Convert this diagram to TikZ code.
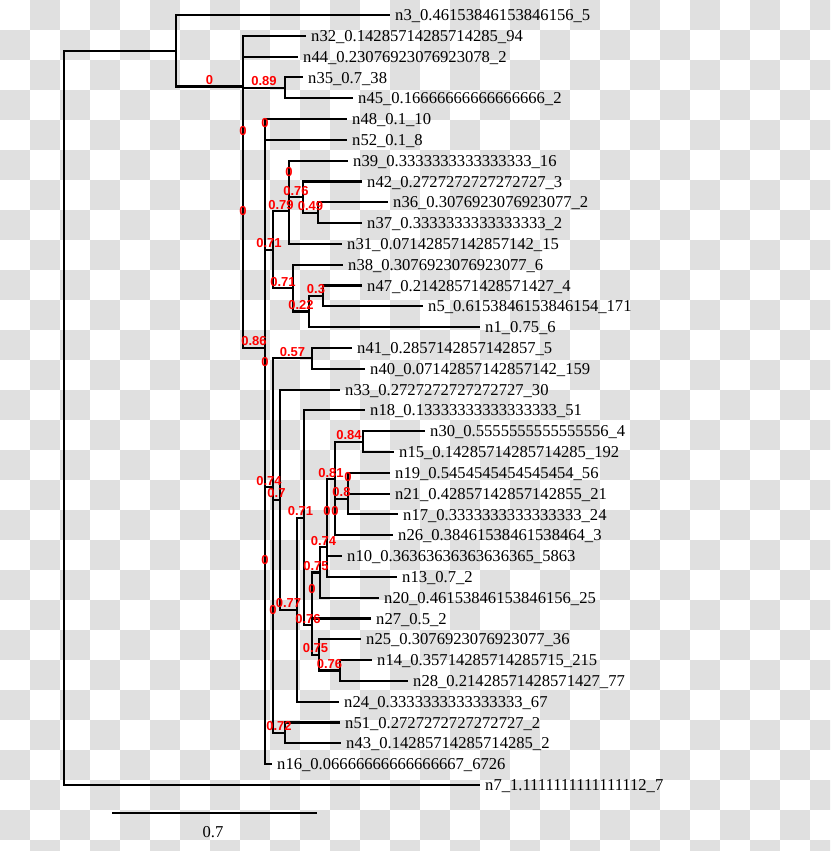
\documentclass[tikz,border=0pt]{standalone}
\usepackage{fontspec}
\setmainfont{Liberation Serif}
\newfontfamily\lblfont{Liberation Sans}
\usetikzlibrary{calc}
\definecolor{chk}{RGB}{224,224,224}
\tikzset{
  branch/.style={line width=2.1pt, black},
  leaftext/.style={anchor=base west, inner sep=0pt, font=\fontsize{16.6}{18}\selectfont},
  support/.style={inner sep=0pt, text=red, font=\lblfont\bfseries\fontsize{13}{15}\selectfont},
}
\newcommand\leafnode[4]{%
  \coordinate (#1) at (#2,#3);
  \node[leaftext] (#1t) at ($(#1)+(5,5.6)$) {#4};}
\newcommand\supp[4]{%
  \node[support, yshift=6.5pt] (#1) at ($(#2 |- #3)!0.5!(#3)$) {#4};}
\begin{document}
\begin{tikzpicture}[x=1pt,y=-1pt]
\useasboundingbox (0,0) rectangle (830,851);
% checkerboard background
\begin{scope}
\clip (0,0) rectangle (830,851);
\foreach \r in {0,...,28}{
  \pgfmathsetmacro{\off}{30*(1-mod(\r,2))}
  \foreach \c in {0,...,13}{
    \fill[chk] ({\off+60*\c},{30*\r}) rectangle ++(30,30);
  }
}
\end{scope}
% leaves
\leafnode{n3}{390}{15}{n3\_0.46153846153846156\_5}
\leafnode{n32}{306}{35.81}{n32\_0.14285714285714285\_94}
\leafnode{n44}{298}{56.62}{n44\_0.23076923076923078\_2}
\leafnode{n35}{303}{77.43}{n35\_0.7\_38}
\leafnode{n45}{353}{98.24}{n45\_0.16666666666666666\_2}
\leafnode{n48}{347}{119.05}{n48\_0.1\_10}
\leafnode{n52}{347}{139.86}{n52\_0.1\_8}
\leafnode{n39}{348}{160.67}{n39\_0.3333333333333333\_16}
\leafnode{n42}{362}{181.48}{n42\_0.2727272727272727\_3}
\leafnode{n36}{388}{202.29}{n36\_0.3076923076923077\_2}
\leafnode{n37}{362}{223.1}{n37\_0.3333333333333333\_2}
\leafnode{n31}{342}{243.91}{n31\_0.07142857142857142\_15}
\leafnode{n38}{343}{264.72}{n38\_0.3076923076923077\_6}
\leafnode{n47}{362}{285.53}{n47\_0.21428571428571427\_4}
\leafnode{n5}{423}{306.34}{n5\_0.6153846153846154\_171}
\leafnode{n1}{480}{327.15}{n1\_0.75\_6}
\leafnode{n41}{352}{347.96}{n41\_0.2857142857142857\_5}
\leafnode{n40}{365}{368.77}{n40\_0.07142857142857142\_159}
\leafnode{n33}{340}{389.58}{n33\_0.2727272727272727\_30}
\leafnode{n18}{365}{410.39}{n18\_0.13333333333333333\_51}
\leafnode{n30}{425}{431.2}{n30\_0.5555555555555556\_4}
\leafnode{n15}{394}{452.01}{n15\_0.14285714285714285\_192}
\leafnode{n19}{390}{472.82}{n19\_0.5454545454545454\_56}
\leafnode{n21}{390}{493.63}{n21\_0.42857142857142855\_21}
\leafnode{n17}{398}{514.44}{n17\_0.3333333333333333\_24}
\leafnode{n26}{393}{535.25}{n26\_0.38461538461538464\_3}
\leafnode{n10}{342}{556.06}{n10\_0.36363636363636365\_5863}
\leafnode{n13}{397}{576.87}{n13\_0.7\_2}
\leafnode{n20}{379}{597.68}{n20\_0.46153846153846156\_25}
\leafnode{n27}{371}{618.49}{n27\_0.5\_2}
\leafnode{n25}{361}{639.3}{n25\_0.3076923076923077\_36}
\leafnode{n14}{372}{660.11}{n14\_0.35714285714285715\_215}
\leafnode{n28}{408}{680.92}{n28\_0.21428571428571427\_77}
\leafnode{n24}{339}{701.73}{n24\_0.3333333333333333\_67}
\leafnode{n51}{340}{722.54}{n51\_0.2727272727272727\_2}
\leafnode{n43}{341}{743.35}{n43\_0.14285714285714285\_2}
\leafnode{n16}{272}{764.16}{n16\_0.06666666666666667\_6726}
\leafnode{n7}{480}{784.97}{n7\_1.1111111111111112\_7}
% internal nodes
\coordinate (Root) at (64,417.87);
\coordinate (A) at (176,50.77);
\coordinate (P) at (243,86.53);
\coordinate (Q) at (243,137.245);
\coordinate (T) at (243,217.87);
\coordinate (C89) at (285,87.835);
\coordinate (V) at (265,347.9);
\coordinate (W1) at (265,129.455);
\coordinate (W2) at (265,566.36);
\coordinate (Y) at (265,368.55);
\coordinate (E71a) at (273,249.76);
\coordinate (E79) at (289,211.395);
\coordinate (Z) at (289,178.88);
\coordinate (E76) at (303,197.09);
\coordinate (E49) at (318,212.695);
\coordinate (E71b) at (293,288.13);
\coordinate (E22) at (309,311.54);
\coordinate (E3) at (323,295.935);
\coordinate (E74a) at (273,487.34);
\coordinate (E57) at (312,358.365);
\coordinate (K) at (273,616.31);
\coordinate (E72) at (285,732.945);
\coordinate (E7) at (280,499.67);
\coordinate (E77) at (297,609.76);
\coordinate (E71c) at (304,517.8);
\coordinate (E76d) at (312,625.2);
\coordinate (E75b) at (319,654.91);
\coordinate (E76c) at (340,670.515);
\coordinate (M) at (312,595.485);
\coordinate (E75) at (320,572.48);
\coordinate (E74b) at (327,547.28);
\coordinate (N1) at (327,517.69);
\coordinate (E81) at (335,479.32);
\coordinate (E84) at (363,441.605);
\coordinate (N2) at (335,517.04);
\coordinate (E8) at (348,498.83);
\coordinate (N3) at (348,483.225);
% branches
\foreach \p/\c in {Root/A, Root/n7, A/n3, A/P, P/n32, P/Q, Q/n44, Q/T,
  T/C89, T/V, C89/n35, C89/n45, V/W1, V/W2, W1/n48, W1/n52, W2/Y, W2/n16,
  Y/E71a, Y/E74a, E71a/E79, E71a/E71b, E79/Z, E79/n31, Z/n39, Z/E76,
  E76/n42, E76/E49, E49/n36, E49/n37, E71b/n38, E71b/E22, E22/E3, E22/n1,
  E3/n47, E3/n5, E74a/E57, E74a/K, E57/n41, E57/n40, K/E7, K/E72,
  E72/n51, E72/n43, E7/n33, E7/E77, E77/E71c, E77/n24, E71c/n18, E71c/E76d,
  E76d/M, E76d/E75b, E75b/n25, E75b/E76c, E76c/n14, E76c/n28, M/E75, M/n27,
  E75/E74b, E75/n20, E74b/N1, E74b/n13, N1/E81, N1/n10, E81/E84, E81/N2,
  E84/n30, E84/n15, N2/E8, N2/n26, E8/N3, E8/n17, N3/n19, N3/n21}
  \draw[branch] (\p) |- (\c);
% support values
\supp{s1}{A}{P}{0}
\supp{s2}{T}{C89}{0.89}
\supp{s3}{P}{Q}{0}
\supp{s4}{V}{W1}{0}
\supp{s5}{E79}{Z}{0}
\supp{s6}{Z}{E76}{0.76}
\supp{s7}{E71a}{E79}{0.79}
\supp{s8}{E76}{E49}{0.49}
\supp{s9}{Q}{T}{0}
\supp{s10}{Y}{E71a}{0.71}
\supp{s11}{E71a}{E71b}{0.71}
\supp{s12}{E22}{E3}{0.3}
\supp{s13}{E71b}{E22}{0.22}
\supp{s14}{T}{V}{0.86}
\supp{s15}{E74a}{E57}{0.57}
\supp{s16}{W2}{Y}{0}
\supp{s17}{E81}{E84}{0.84}
\supp{s18}{E8}{N3}{0}
\supp{s19}{N1}{E81}{0.81}
\supp{s20}{Y}{E74a}{0.74}
\supp{s21}{N2}{E8}{0.8}
\supp{s22}{K}{E7}{0.7}
\supp{s23}{E77}{E71c}{0.71}
\supp{s24}{E74b}{N1}{0}
\supp{s25}{E81}{N2}{0}
\supp{s26}{E75}{E74b}{0.74}
\supp{s27}{V}{W2}{0}
\supp{s28}{M}{E75}{0.75}
\supp{s29}{E76d}{M}{0}
\supp{s30}{E7}{E77}{0.77}
\supp{s31}{E74a}{K}{0}
\supp{s32}{E71c}{E76d}{0.76}
\supp{s33}{E76d}{E75b}{0.75}
\supp{s34}{E75b}{E76c}{0.76}
\supp{s35}{K}{E72}{0.72}
% scale bar
\coordinate (sb1) at (112,813);
\coordinate (sb2) at (317,813);
\draw[line width=2pt] (sb1) -- (sb2);
\node[inner sep=0pt, font=\fontsize{16.6}{18}\selectfont] (sbl) at (213,832) {0.7};
\end{tikzpicture}
\end{document}
